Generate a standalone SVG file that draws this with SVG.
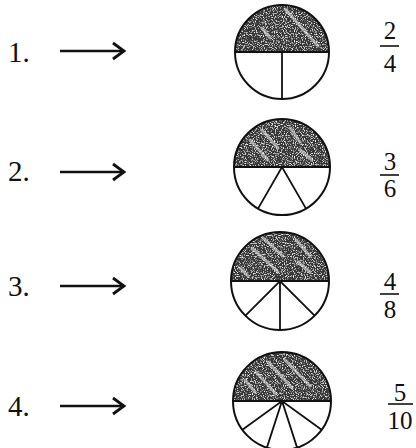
<svg xmlns="http://www.w3.org/2000/svg" width="416" height="448" viewBox="0 0 416 448">
<style>
.lbl{font-family:"Liberation Serif","Times New Roman",serif;font-size:29px;fill:#111}
.frac{font-family:"Liberation Serif","Times New Roman",serif;font-size:25px;fill:#111;text-anchor:middle}
.bar{stroke:#111;stroke-width:1.6}
.rim{fill:none;stroke:#111;stroke-width:2}
.shade{fill:#383838;filter:url(#grain)}
.spoke{stroke:#111;stroke-width:1.8;fill:none}
.streak{stroke:#e6e6e6;stroke-opacity:0.6;stroke-width:3;stroke-linecap:round}
.arrow{stroke:#111;stroke-width:2.4;fill:none}
</style>
<defs>
<filter id="grain" x="0" y="0" width="1" height="1">
<feTurbulence type="fractalNoise" baseFrequency="0.9" numOctaves="2" seed="3" result="n"/>
<feColorMatrix in="n" type="matrix" values="0 0 0 0 1 0 0 0 0 1 0 0 0 0 1 0 0 0 -3.2 1.55" result="w"/>
<feComposite in="w" in2="SourceGraphic" operator="in" result="s"/>
<feMerge><feMergeNode in="SourceGraphic"/><feMergeNode in="s"/></feMerge>
</filter>
<marker id="head" markerWidth="16" markerHeight="20" refX="13" refY="10" orient="auto" markerUnits="userSpaceOnUse">
<path d="M2 2 L13 10 L2 18" fill="none" stroke="#111" stroke-width="2.8"/>
</marker>
<clipPath id="c1"><path d="M235 52 A47 47 0 0 1 329 52 Z"/></clipPath>
<clipPath id="c2"><path d="M234 167 A48 48 0 0 1 330 167 Z"/></clipPath>
<clipPath id="c3"><path d="M231 281 A49 49 0 0 1 329 281 Z"/></clipPath>
<clipPath id="c4"><path d="M233 401 A49 49 0 0 1 331 401 Z"/></clipPath>
</defs>
<rect width="416" height="448" fill="#fff"/>

<g id="connectors">
<line class="arrow" x1="60" y1="51" x2="124" y2="51" marker-end="url(#head)"/>
<line class="arrow" x1="60" y1="172" x2="124" y2="172" marker-end="url(#head)"/>
<line class="arrow" x1="60" y1="286" x2="124" y2="286" marker-end="url(#head)"/>
<line class="arrow" x1="60" y1="406" x2="124" y2="406" marker-end="url(#head)"/>
</g>

<g id="row1">
<text class="lbl" x="8" y="62">1.</text>
<g id="circle1">
<path class="shade" d="M235 52 A47 47 0 0 1 329 52 Z"/>
<g clip-path="url(#c1)">
<line class="streak" x1="285" y1="9" x2="318" y2="46"/>
<line class="streak" x1="262" y1="28" x2="270" y2="38" stroke-opacity="0.3"/>
</g>
<circle class="rim" cx="282" cy="52" r="47"/>
<line class="spoke" x1="235" y1="52" x2="329" y2="52"/>
<line class="spoke" x1="282" y1="52" x2="282" y2="99"/>
</g>
<g id="frac1">
<text class="frac" x="390" y="39">2</text>
<line class="bar" x1="380" y1="46" x2="399" y2="46"/>
<text class="frac" x="390" y="72">4</text>
</g>
</g>

<g id="row2">
<text class="lbl" x="8" y="181">2.</text>
<g id="circle2">
<path class="shade" d="M234 167 A48 48 0 0 1 330 167 Z"/>
<g clip-path="url(#c2)">
<line class="streak" x1="250" y1="140" x2="268" y2="160"/>
<line class="streak" x1="262" y1="130" x2="278" y2="148"/>
<line class="streak" x1="290" y1="128" x2="300" y2="142"/>
<line class="streak" x1="300" y1="150" x2="312" y2="160"/>
</g>
<circle class="rim" cx="282" cy="167" r="48"/>
<line class="spoke" x1="234" y1="167" x2="330" y2="167"/>
<path class="spoke" d="M258 208.6 L282 167 L306 208.6"/>
</g>
<g id="frac2">
<text class="frac" x="390" y="170">3</text>
<line class="bar" x1="380" y1="175" x2="399" y2="175"/>
<text class="frac" x="390" y="197">6</text>
</g>
</g>

<g id="row3">
<text class="lbl" x="8" y="296">3.</text>
<g id="circle3">
<path class="shade" d="M231 281 A49 49 0 0 1 329 281 Z"/>
<g clip-path="url(#c3)">
<line class="streak" x1="252" y1="248" x2="278" y2="272"/>
<line class="streak" x1="263" y1="238" x2="283" y2="256"/>
<line class="streak" x1="296" y1="240" x2="310" y2="256"/>
<line class="streak" x1="240" y1="268" x2="248" y2="276"/>
<line class="streak" x1="298" y1="262" x2="310" y2="272"/>
</g>
<circle class="rim" cx="280" cy="281" r="49"/>
<line class="spoke" x1="231" y1="281" x2="329" y2="281"/>
<path class="spoke" d="M245.4 315.6 L280 281 L314.6 315.6 M280 281 L280 330"/>
</g>
<g id="frac3">
<text class="frac" x="390" y="290">4</text>
<line class="bar" x1="380" y1="294" x2="399" y2="294"/>
<text class="frac" x="390" y="318">8</text>
</g>
</g>

<g id="row4">
<text class="lbl" x="8" y="416">4.</text>
<g id="circle4">
<path class="shade" d="M233 401 A49 49 0 0 1 331 401 Z"/>
<g clip-path="url(#c4)">
<line class="streak" x1="268" y1="362" x2="292" y2="388"/>
<line class="streak" x1="256" y1="372" x2="276" y2="394"/>
<line class="streak" x1="285" y1="360" x2="310" y2="386"/>
<line class="streak" x1="245" y1="380" x2="255" y2="392"/>
</g>
<circle class="rim" cx="282" cy="401" r="49"/>
<line class="spoke" x1="233" y1="401" x2="331" y2="401"/>
<path class="spoke" d="M242.4 429.8 L282 401 L321.6 429.8 M266.9 447.6 L282 401 L297.1 447.6"/>
</g>
<g id="frac4">
<text class="frac" x="400" y="401">5</text>
<line class="bar" x1="388" y1="404" x2="413" y2="404"/>
<text class="frac" x="400" y="429">10</text>
</g>
</g>
</svg>
